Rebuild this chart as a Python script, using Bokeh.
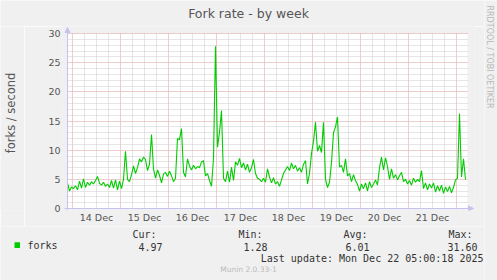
from datetime import datetime, timedelta
from math import pi
from bokeh.plotting import figure
from bokeh.layouts import row, column
from bokeh.models import (ColumnDataSource, Range1d, FixedTicker, DatetimeTickFormatter,
                          Label, Arrow, NormalHead, BoxAnnotation)
from bokeh.embed import file_html
from bokeh.resources import INLINE

# ---------------- data (hourly samples) ----------------
start_time = datetime(2025, 12, 13, 21, 30)
forks = [
    # Dec 13 late / Dec 14
    4.4, 3.0, 3.7, 3.4, 3.9, 3.2, 4.7, 3.5, 5.1, 3.6, 4.5, 4.0, 4.6, 4.2, 4.8, 5.5,
    4.3, 4.0, 4.5, 3.8, 4.2, 3.6, 4.8, 3.5, 4.9, 3.2, 4.7,
    # Dec 15
    3.4, 5.0, 9.8, 5.0, 4.6, 5.8, 7.3, 6.0, 7.0, 8.5, 8.0, 8.8, 8.4, 6.5, 7.6, 12.7,
    6.8, 5.2, 6.6, 5.7, 4.4, 5.9, 6.2, 5.5,
    # Dec 16
    6.4, 5.6, 4.6, 5.2, 12.0, 11.8, 13.7, 6.2, 5.4, 8.5, 7.3, 6.6, 7.4, 6.8, 7.2, 7.0,
    8.0, 8.2, 5.6, 6.0, 4.8, 3.8, 8.6, 27.8,
    # Dec 17
    10.5, 13.1, 16.8, 5.2, 4.6, 6.4, 4.5, 7.1, 4.8, 8.0, 7.4, 8.6, 7.0, 7.8, 6.6, 7.6,
    6.2, 7.0, 8.4, 6.0, 5.2, 5.0, 4.6, 5.2,
    # Dec 18
    4.5, 6.8, 5.4, 4.4, 5.3, 4.2, 4.6, 3.8, 4.9, 6.0, 6.6, 7.2, 6.5, 7.8, 6.8, 7.4,
    6.4, 7.0, 6.2, 7.6, 8.2, 4.2, 6.0, 9.4,
    # Dec 19
    11.5, 14.8, 9.8, 10.8, 9.6, 14.8, 5.0, 3.6, 4.5, 7.9, 13.0, 14.0, 15.7, 7.1, 7.4, 6.2,
    8.5, 5.6, 6.0, 4.6, 5.8, 4.8, 4.1, 3.0,
    # Dec 20
    4.2, 3.4, 4.4, 3.0, 4.6, 3.6, 4.2, 4.9, 4.0, 7.0, 8.8, 6.6, 8.7, 7.2, 5.0, 6.8,
    5.2, 5.8, 4.9, 5.6, 6.2, 4.6, 5.0, 4.2,
    # Dec 21
    4.8, 4.0, 5.2, 4.5, 5.0, 4.6, 6.5, 3.4, 4.4, 3.2, 4.2, 3.5, 4.4, 2.8, 3.9, 3.0,
    4.0, 2.6, 3.7, 2.9, 3.8, 2.7, 3.6, 4.9,
    # Dec 22
    5.2, 16.3, 5.4, 8.5, 4.97,
]
times = [start_time + timedelta(hours=i) for i in range(len(forks))]

day_labels = ["14 Dec", "15 Dec", "16 Dec", "17 Dec", "18 Dec", "19 Dec", "20 Dec", "21 Dec"]
y_ticks = [0, 5, 10, 15, 20, 25, 30]
y_max = 30
series_name = "forks"
stat_names = ["Cur:", "Min:", "Avg:", "Max:"]
stat_values = ["4.97", "1.28", "6.01", "31.60"]
title_text = "Fork rate - by week"
y_label = "forks / second"
last_update = "Last update: Mon Dec 22 05:00:18 2025"
footer = "Munin 2.0.33-1"
side_text = "RRDTOOL / TOBI OETIKER"

# ---------------- geometry (canvas pixels) ----------------
EPOCH = datetime(1970, 1, 1)
def ms(dt):
    return (dt - EPOCH).total_seconds() * 1000.0

BG = "#F0F0F0"
PX_MS = 30 * 60 * 1000                 # one pixel = 30 minutes
K = y_max / 175.0                      # value units per pixel
X0 = ms(start_time)                    # value at canvas x = 67

# canvas layout
TOP_H = 26          # title strip
MID_H = 200         # chart strip  (y 26..226)
BOT_H = 54          # legend strip (y 226..280)
LEFT_W = 24         # y-label strip
MAIN_W = 484        # everything left of the side text
SIDE_W = 13

def xs(px):
    return X0 + (px - 67) * PX_MS

def yv(py):
    return (208 - py) * K

def plain(w, h):
    f = figure(width=w, height=h, output_backend="svg", toolbar_location=None,
               x_axis_type=None, y_axis_type=None, min_border=0, title=None,
               x_range=Range1d(0, w), y_range=Range1d(0, h))
    f.background_fill_color = BG
    f.border_fill_color = BG
    f.outline_line_color = None
    return f

def lab(f, text, x, y, size, color, font="DejaVu Sans", align="left", angle=0.0):
    f.add_layout(Label(x=x, y=y, text=text, text_font=font, text_font_size=size,
                       text_color=color, text_align=align, text_baseline="middle",
                       angle=angle))

# ---------------- chart ----------------
F_L, F_R, F_T, F_B = 62, 474, 26, 210     # frame edges in canvas px
p = figure(width=MAIN_W - LEFT_W, height=MID_H, output_backend="svg", toolbar_location=None,
           title=None,
           x_range=Range1d(xs(F_L), xs(F_R)), y_range=Range1d(yv(F_B), yv(F_T)),
           min_border_left=F_L - LEFT_W, min_border_right=MAIN_W - F_R,
           min_border_top=F_T - TOP_H, min_border_bottom=TOP_H + MID_H - F_B)
p.background_fill_color = BG
p.border_fill_color = BG
p.outline_line_color = None

first_day = datetime(2025, 12, 14)
noons = [ms(first_day + timedelta(days=i, hours=12)) for i in range(len(day_labels))]
midnights = [ms(first_day + timedelta(days=i)) for i in range(len(day_labels) + 1)]
six_h = [ms(first_day + timedelta(hours=6 * k)) for k in range(-1, 4 * 9)]

p.xaxis.ticker = FixedTicker(ticks=noons)
p.xaxis.formatter = DatetimeTickFormatter(days="%d %b", months="%d %b", hours="%d %b")
p.yaxis.ticker = FixedTicker(ticks=y_ticks, minor_ticks=list(range(0, y_max + 1)))
p.xgrid.ticker = FixedTicker(ticks=midnights, minor_ticks=six_h)

axis_col = "#C4C4EE"
for ax in (p.xaxis, p.yaxis):
    ax.axis_line_color = None
    ax.major_tick_line_color = None
    ax.minor_tick_line_color = None
    ax.major_tick_in = 0
    ax.major_tick_out = 0
    ax.minor_tick_in = 0
    ax.minor_tick_out = 0
    ax.major_label_text_font = "DejaVu Sans"
    ax.major_label_text_font_size = "9.5px"
    ax.major_label_text_color = "#555555"
p.xaxis.major_label_standoff = 1
p.yaxis.major_label_standoff = 2

# white canvas area of the graph
p.add_layout(BoxAnnotation(left=xs(67), right=xs(467), bottom=0, top=y_max,
                           fill_color="white", fill_alpha=1.0, line_color=None,
                           level="image"))

for g in (p.xgrid, p.ygrid):
    g.grid_line_color = "#F4B4B4"
    g.grid_line_dash = "1 1"
    g.grid_line_width = 1
    g.minor_grid_line_color = "#CDCDCD"
    g.minor_grid_line_dash = "1 1"
    g.minor_grid_line_width = 1

# trim grid lines to the graph area
for (l, r, b, t) in [(xs(F_L), xs(F_R), y_max + 0.5 * K, yv(F_T)),
                     (xs(467.5), xs(F_R), yv(F_B), yv(F_T)),
                     (xs(F_L), xs(66.5), yv(F_B), yv(F_T)),
                     (xs(F_L), xs(F_R), yv(F_B), -0.5 * K)]:
    p.add_layout(BoxAnnotation(left=l, right=r, bottom=b, top=t, fill_color=BG,
                               fill_alpha=1.0, line_color=None, level="underlay"))

src = ColumnDataSource(dict(t=times, v=forks))
p.line("t", "v", source=src, line_color="#00CC00", line_width=1.1)

# axis lines with arrows
p.add_layout(Arrow(end=NormalHead(size=5, fill_color=axis_col, line_color=axis_col),
                   x_start=xs(67), y_start=yv(211), x_end=xs(67), y_end=yv(27),
                   line_color=axis_col, line_width=1))
p.add_layout(Arrow(end=NormalHead(size=5, fill_color=axis_col, line_color=axis_col),
                   x_start=xs(64), y_start=0, x_end=xs(473), y_end=0,
                   line_color=axis_col, line_width=1))

# ---------------- text strips ----------------
title_fig = plain(MAIN_W, TOP_H)
lab(title_fig, title_text, 248, TOP_H - 13, "12.5px", "#555555", align="center")

ylab_fig = plain(LEFT_W, MID_H)
lab(ylab_fig, y_label, 10, TOP_H + MID_H - 120, "11.5px", "#555555", align="center",
    angle=pi / 2)

side_fig = plain(SIDE_W, TOP_H + MID_H + BOT_H)
lab(side_fig, side_text, 489 - MAIN_W, TOP_H + MID_H + BOT_H - 5, "8px", "#B8B8B8",
    align="left", angle=-pi / 2)

leg = plain(MAIN_W, BOT_H)
H_ALL = TOP_H + MID_H + BOT_H
def ly(py):
    return H_ALL - py

mono = "DejaVu Sans Mono"
leg.quad(left=[14], right=[19.5], bottom=[ly(247.5)], top=[ly(241.8)],
         fill_color="#00CC00", line_color=None)
lab(leg, series_name, 27, ly(245), "10px", "#333333", font=mono)
head_x = [132, 238, 343, 448]
val_x = [138, 243, 345, 447]
for name, hx in zip(stat_names, head_x):
    lab(leg, name, hx, ly(234), "10px", "#333333", font=mono)
for v, vx in zip(stat_values, val_x):
    lab(leg, v, vx, ly(246), "10px", "#333333", font=mono)
lab(leg, last_update, 483, ly(258), "10px", "#333333", font=mono, align="right")
lab(leg, footer, 248, ly(269), "7.5px", "#BBBBBB", align="center")

layout = row(column(title_fig, row(ylab_fig, p, spacing=0), leg, spacing=0),
             side_fig, spacing=0)

open("out.html", "w").write(file_html(layout, INLINE))
